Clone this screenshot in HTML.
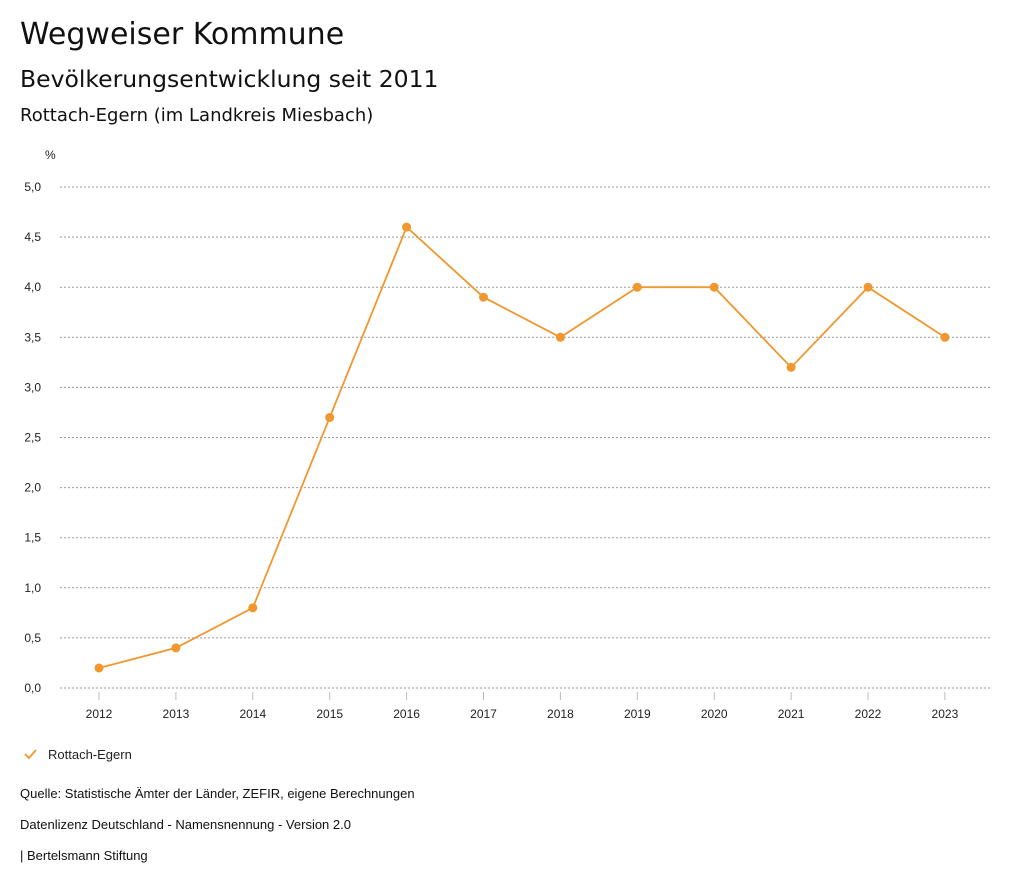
<!DOCTYPE html>
<html><head><meta charset="utf-8">
<style>
body{margin:0;width:1024px;height:888px;background:#fff;font-family:"Liberation Sans",sans-serif;color:#111;overflow:hidden;position:relative}
.t{position:absolute;left:20px;white-space:nowrap}
.h{font-family:"DejaVu Sans",sans-serif}
</style></head><body>
<div class="t h" style="top:17px;font-size:30px">Wegweiser Kommune</div>
<div class="t h" style="top:65px;font-size:23.5px">Bevölkerungsentwicklung seit 2011</div>
<div class="t h" style="top:105px;font-size:18px">Rottach-Egern (im Landkreis Miesbach)</div>
<svg id="chart" width="1024" height="888" style="position:absolute;left:0;top:0" font-family="Liberation Sans, sans-serif">
<text x="45" y="159" font-size="12" fill="#222">%</text>
<g id="grid"></g><g id="xt"></g><g id="series"></g>
<g>
<path d="M25 754 L29 758 L36 750" stroke="#f0972f" stroke-width="1.8" fill="none"/>
<text x="48" y="759" font-size="13" fill="#222">Rottach-Egern</text>
</g>
</svg>
<div class="t" style="top:786px;font-size:13px">Quelle: Statistische Ämter der Länder, ZEFIR, eigene Berechnungen</div>
<div class="t" style="top:817px;font-size:13px">Datenlizenz Deutschland - Namensnennung - Version 2.0</div>
<div class="t" style="top:848px;font-size:13px">| Bertelsmann Stiftung</div>
<script>
const years=["2012","2013","2014","2015","2016","2017","2018","2019","2020","2021","2022","2023"];
const values=[0.2,0.4,0.8,2.7,4.6,3.9,3.5,4.0,4.0,3.2,4.0,3.5];
const yTicks=[0,0.5,1,1.5,2,2.5,3,3.5,4,4.5,5];
const yTickLabels=["0,0","0,5","1,0","1,5","2,0","2,5","3,0","3,5","4,0","4,5","5,0"];
const NS="http://www.w3.org/2000/svg";
const y=v=>688-v*100.2;
const x=i=>99+i*76.9;
function mk(tag,attrs,parent){const e=document.createElementNS(NS,tag);for(const k in attrs)e.setAttribute(k,attrs[k]);parent.appendChild(e);return e;}
const grid=document.getElementById('grid'),xt=document.getElementById('xt'),ser=document.getElementById('series');
yTicks.forEach((t,i)=>{
 const l=mk('line',{x1:60,x2:990,y1:y(t),y2:y(t),stroke:'#999','stroke-dasharray':'2,2','stroke-width':1},grid);
 
 
 const tx=mk('text',{x:41,y:y(t)+4,'text-anchor':'end','font-size':12,fill:'#222'},grid);
 tx.textContent=yTickLabels[i];
 
 
});
years.forEach((yr,i)=>{
 const l=mk('line',{x1:x(i),x2:x(i),y1:692,y2:700,stroke:'#bbb'},xt);
 
 
 const tx=mk('text',{x:x(i),y:718,'text-anchor':'middle','font-size':12,fill:'#222'},xt);
 tx.textContent=yr;
 
 
});
const p=mk('polyline',{points:values.map((v,i)=>x(i)+','+y(v)).join(' '),fill:'none',stroke:'#f0972f','stroke-width':1.8},ser);


values.forEach((v,i)=>{
 const c=mk('circle',{cx:x(i),cy:y(v),r:4.5,fill:'#f0972f'},ser);
 
 
});
</script>
</body></html>
